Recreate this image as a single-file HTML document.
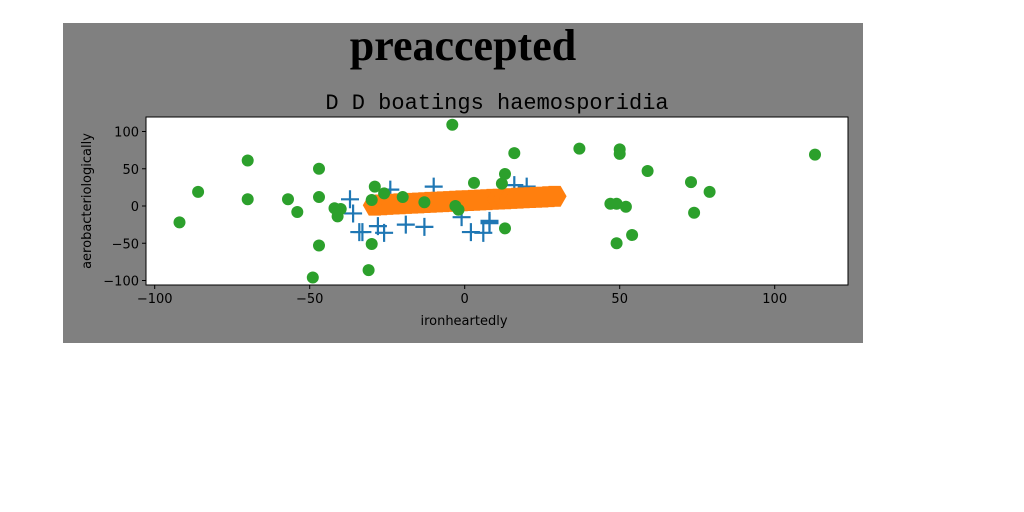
<!DOCTYPE html>
<html><head><meta charset="utf-8"><style>
body{margin:0;width:1024px;height:512px;background:#fff;overflow:hidden}
svg{display:block}
</style></head><body>
<svg id="chart" width="1024" height="512">
<rect x="63" y="23" width="800" height="320" fill="#808080"/>
<text x="463" y="60" text-anchor="middle" font-family="Liberation Serif, serif" font-weight="bold" font-size="44">preaccepted</text>
<text x="497" y="109" text-anchor="middle" font-family="Liberation Mono, monospace" font-size="22">D D boatings haemosporidia</text>
<rect x="146" y="117" width="702" height="168" fill="#fff" stroke="#000" stroke-width="1"/>
<g id="marks"></g>
<g id="axes" font-family="DejaVu Sans, sans-serif" font-size="13"></g>
<text x="464" y="325" text-anchor="middle" font-family="DejaVu Sans, sans-serif" font-size="13">ironheartedly</text>
<text transform="translate(91,201) rotate(-90)" text-anchor="middle" font-family="DejaVu Sans, sans-serif" font-size="13">aerobacteriologically</text>
</svg>
<script>
const xTicks=[-100,-50,0,50,100];
const yTicks=[-100,-50,0,50,100];
const greenX=[-92,-86,-70,-70,-57,-54,-47,-47,-47,-49,-42,-40,-41,-29,-30,-26,-30,-31,-20,-13,-4,-3,-2,3,12,13,16,13,37,50,50,59,73,79,47,49,52,74,54,49,113];
const greenY=[-22,19,61,9,9,-8,50,12,-53,-96,-3,-4,-14,26,8,17,-51,-86,12,5,109,0,-5,31,30,43,71,-30,77,76,70,47,32,19,3,3,-1,-9,-39,-50,69];
const blueX=[-37,-36,-34,-33,-28,-26,-19,-13,-1,2,6,8,8,-24,-10,16,20];
const blueY=[9,-10,-35,-35,-27,-36,-25,-28,-15,-35,-36,-20,-23,22,26,28,26];
const orangeX=[-29,-27,-25,-23,-21,-19,-17,-15,-13,-11,-9,-7,-5,-3,-1,1,3,5,7,9,11,13,15,17,19,21,23,25,27,29];
const orangeY=[1,1.5,2,2.5,3,3.3,3.7,4,4.5,5,5.3,5.7,6,6.5,7,7.3,7.7,8,8.5,9,9.3,9.7,10,10.5,11,11.3,11.7,12,12.5,13];
const sx=v=>464.7+3.1*v, sy=v=>206-0.745*v;
const NS='http://www.w3.org/2000/svg';
const marks=document.getElementById('marks'), axes=document.getElementById('axes');
function mk(t,a,p){const e=document.createElementNS(NS,t);for(const k in a)e.setAttribute(k,a[k]);p.appendChild(e);return e;}
blueX.forEach((x,i)=>{const cx=sx(x),cy=sy(blueY[i]);
 const e=mk('path',{d:`M${cx-9} ${cy}H${cx+9}M${cx} ${cy-9}V${cy+9}`,stroke:'#1f77b4','stroke-width':2.2,fill:'none'},marks);
 
 });
orangeX.forEach((x,i)=>{const cx=sx(x),cy=sy(orangeY[i]);let pts=[];
 for(let k=0;k<6;k++){const a=Math.PI/3*k;pts.push((cx+12*Math.cos(a)).toFixed(1)+','+(cy+12*Math.sin(a)).toFixed(1));}
 const e=mk('polygon',{points:pts.join(' '),fill:'#ff7f0e'},marks);
 
 });
greenX.forEach((x,i)=>{const e=mk('circle',{cx:sx(x),cy:sy(greenY[i]),r:6,fill:'#2ca02c'},marks);
 
 });
xTicks.forEach(v=>{const x=sx(v);
 const l=mk('line',{x1:x,x2:x,y1:285,y2:289,stroke:'#000'},axes);
 
 
 const t=mk('text',{x:x,y:303,'text-anchor':'middle'},axes);t.textContent=v===0?'0':String(v).replace('-','\u2212');
 
 });
yTicks.forEach(v=>{const y=sy(v);
 const l=mk('line',{x1:142,x2:146,y1:y,y2:y,stroke:'#000'},axes);
 
 
 const t=mk('text',{x:139,y:y+5,'text-anchor':'end'},axes);t.textContent=v===0?'0':String(v).replace('-','\u2212');
 
 });
</script>
</body></html>
